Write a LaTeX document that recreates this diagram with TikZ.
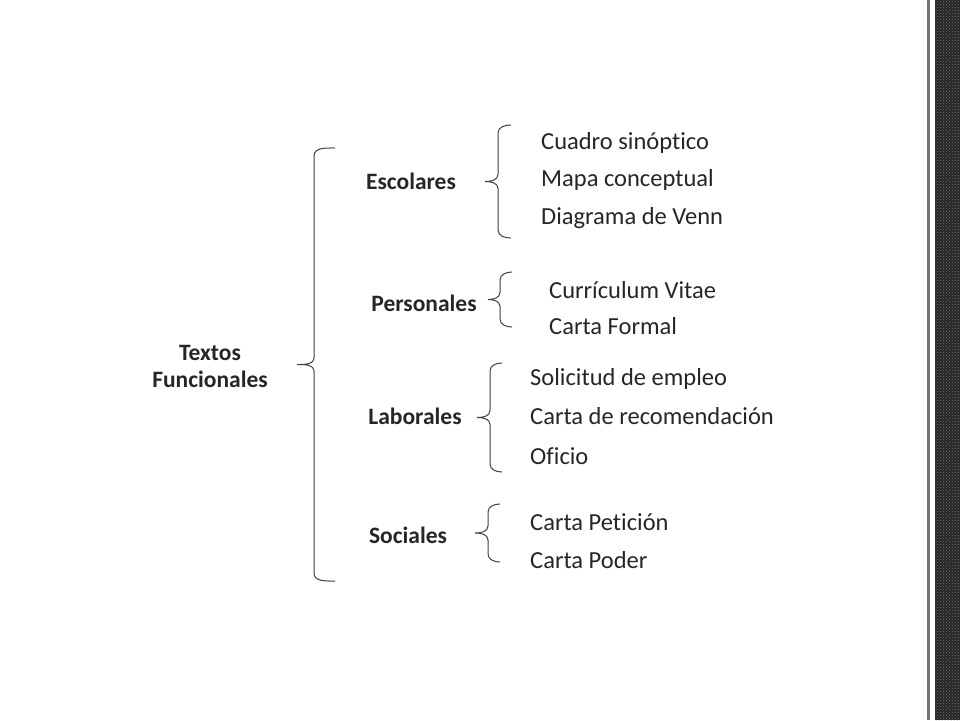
\documentclass[tikz,border=0pt]{standalone}
\usepackage{fontspec}
\setmainfont{Carlito}[Ligatures=NoCommon]
\usetikzlibrary{patterns}
\definecolor{txt}{HTML}{262626}
\begin{document}
\begin{tikzpicture}[x=1pt,y=-1pt,
  item/.style={anchor=west,text=txt,font=\fontsize{24.5}{28}\selectfont,inner sep=0},
  cat/.style={text=txt,font=\bfseries\fontsize{23.5}{27}\selectfont,inner sep=0,align=center},
  br/.style={draw=black!75,line width=1pt}]
\useasboundingbox (0,0) rectangle (960,720);
\fill[white] (0,0) rectangle (960,720);
% right decorative strip
\fill[black!55] (927,0) rectangle (930,720);
\fill[black!85] (935,0) rectangle (960,720);
\fill[pattern=crosshatch dots, pattern color=black!55] (935,0) rectangle (960,720);
% braces
\newcommand\mybrace[5]{% endx, stemx, tipx, top, bottom
  \pgfmathsetmacro\mid{(#4+#5)/2}
  \draw[br] (#1,#4) to[out=180,in=90] (#2,#4+8) -- (#2,\mid-7) to[out=-90,in=0] (#3,\mid) to[out=0,in=90] (#2,\mid+7) -- (#2,#5-8) to[out=-90,in=180] (#1,#5);}
\mybrace{335}{314}{297}{148}{581}
\mybrace{511}{498}{485}{125}{238}
\mybrace{512}{500}{488}{272}{327}
\mybrace{502}{490}{477}{363}{472}
\mybrace{500}{488}{475}{504}{562}
% texts
\node[cat] (tf) at (210,366) {Textos\\Funcionales};
\node[cat] (esc) at (411,181) {Escolares};
\node[cat] (per) at (424,303) {Personales};
\node[cat] (lab) at (415,416) {Laborales};
\node[cat] (soc) at (408,535) {Sociales};
\node[item] (c1) at (541,143) {Cuadro sinóptico};
\node[item] (c2) at (541,180) {Mapa conceptual};
\node[item] (c3) at (541,218) {Diagrama de Venn};
\node[item] (p1) at (549,290) {Currículum Vitae};
\node[item] (p2) at (549,326) {Carta Formal};
\node[item] (l1) at (530,379) {Solicitud de empleo};
\node[item] (l2) at (530,416) {Carta de recomendación};
\node[item] (l3) at (530,456) {Oficio};
\node[item] (s1) at (530,522) {Carta Petición};
\node[item] (s2) at (530,560) {Carta Poder};
\end{tikzpicture}
\end{document}
